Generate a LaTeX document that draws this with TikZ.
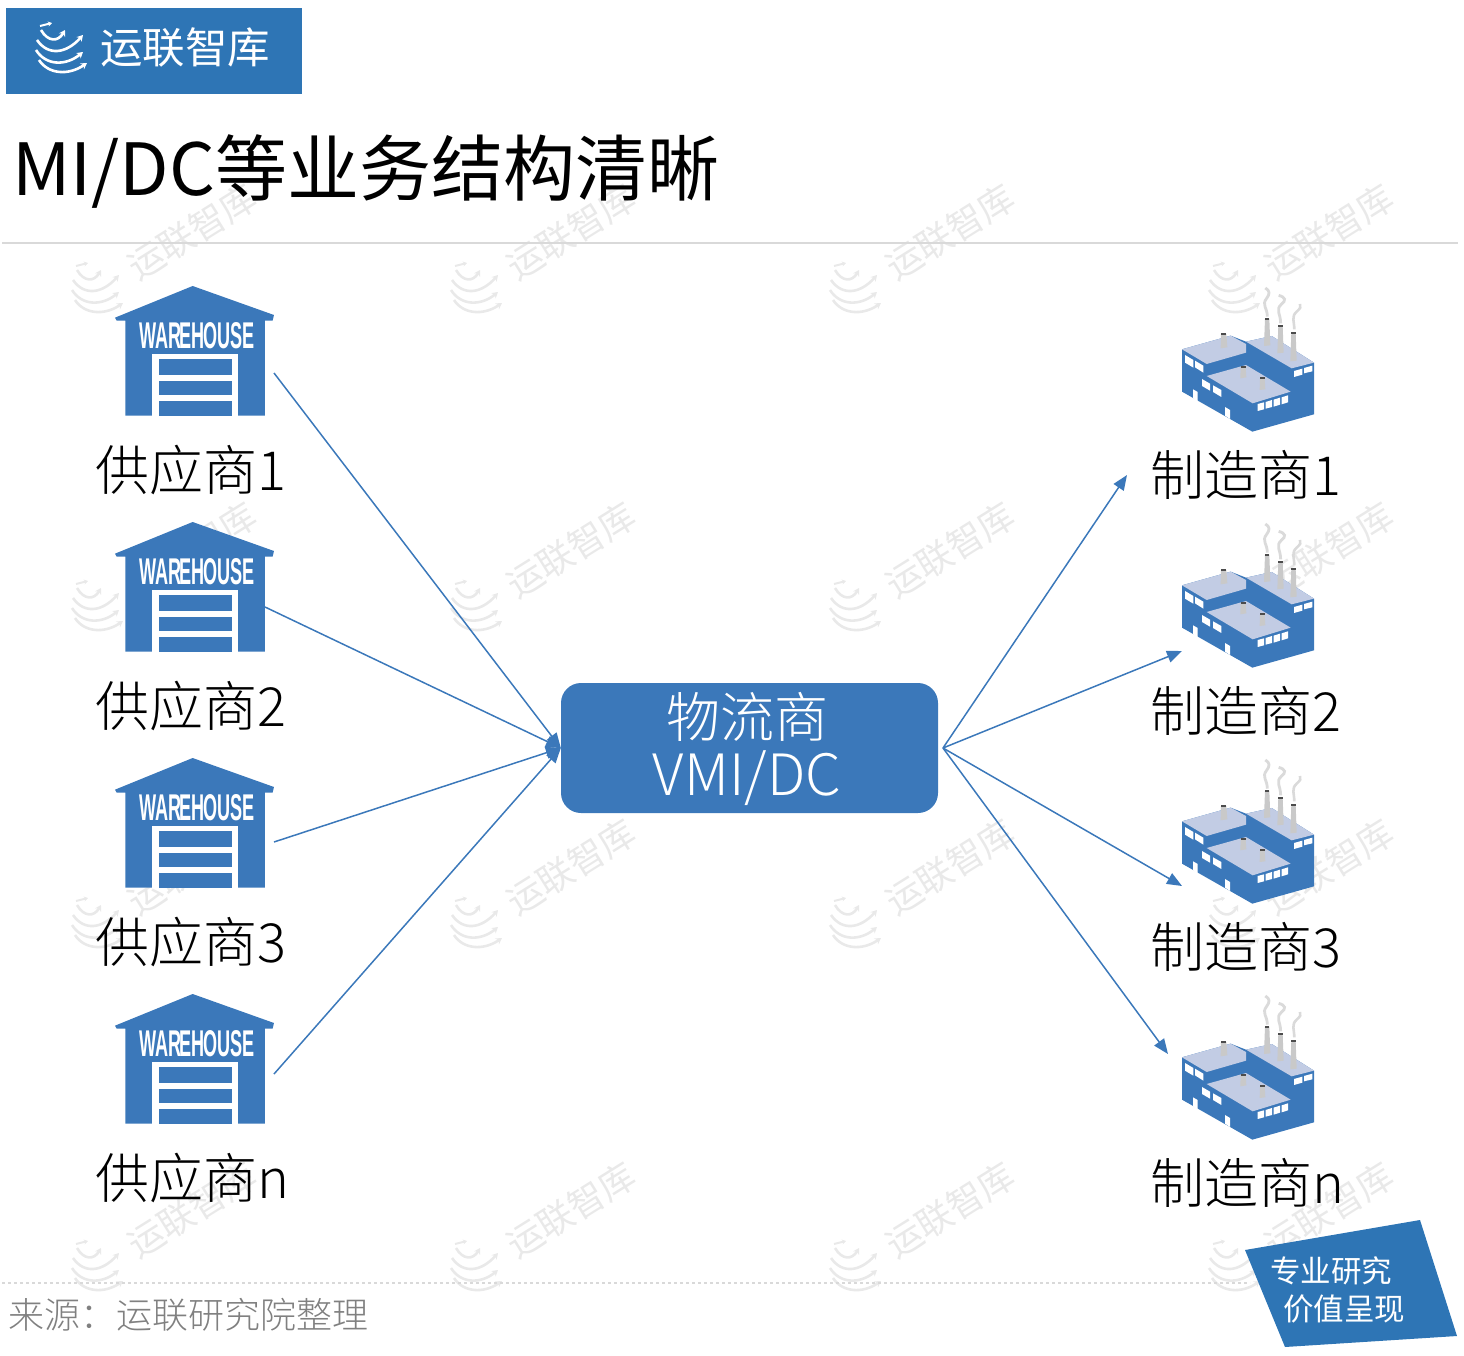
\documentclass[tikz,border=0pt]{standalone}
\usepackage{graphicx}
\usepackage{fontspec}
\usetikzlibrary{arrows.meta}
\setmainfont{Noto Sans CJK SC Light}
\newfontfamily\cjkreg{Noto Sans CJK SC}
\newfontfamily\boxfont{Liberation Sans}
\definecolor{hubblue}{HTML}{3B78BA}
\definecolor{bannerblue}{HTML}{2E75B5}
\definecolor{roofblue}{HTML}{C2CCE4}
\definecolor{stackgray}{HTML}{C9C9C9}
\definecolor{smokegray}{HTML}{DADADA}
\definecolor{markgray}{HTML}{E9E9E9}
\tikzset{
  globe/.pic={
    \draw[#1,line width=2.6pt,-{Stealth[length=6pt,width=7pt]}] (3,38) .. controls (12,52) and (32,54) .. (51,41);
    \draw[#1,line width=2.6pt,-{Stealth[length=6pt,width=7pt]}] (0,28) .. controls (10,44) and (30,44) .. (47,30);
    \draw[#1,line width=2.6pt,-{Stealth[length=6pt,width=7pt]}] (1,18) .. controls (12,34) and (30,32) .. (47,13);
    \draw[#1,line width=2.6pt,-{Stealth[length=6pt,width=7pt]}] (5,8) .. controls (12,20) and (22,20) .. (29,8);
    \draw[#1,line width=2pt,-{Stealth[length=4pt,width=5pt]}] (4,4) -- (16,1);
  },
  watermark/.pic={
    \pic {globe=markgray};
    \node[rotate=32,text=markgray,font=\cjkreg\fontsize{36}{36}\selectfont,inner sep=0pt] (-name) at (120,-30) {运联智库};
  },
  warehouse/.pic={
    \begin{scope}[scale=0.3333]
    \fill[hubblue] (308,48)--(552,135)--(548,152)--(525,152)--(525,437)--(106,437)--(106,152)--(80,152)--(75,143)--cycle;
    \fill[white] (187,252) rectangle (445,437);
    \fill[hubblue] (208,268) rectangle (425,315);
    \fill[hubblue] (208,333) rectangle (425,374);
    \fill[hubblue] (208,392) rectangle (425,437);
    \node[inner sep=0pt,text=white] (-name) at (322,196) {\resizebox{115pt}{26pt}{\boxfont\bfseries WAR\kern-.12em EH\kern-.08em OUSE}};
    \end{scope}
  },
  factory/.pic={
    \begin{scope}[scale=0.3333]
    \fill[hubblue] (66,238)--(212,197)--(258,215)--(335,198)--(462,278)--(462,433)--(277,485)--(66,365)--cycle;
    \fill[roofblue] (66,238)--(212,197)--(258,222)--(258,248)--(140,282)--cycle;
    \fill[roofblue] (258,215)--(335,198)--(462,278)--(395,295)--cycle;
    \fill[roofblue] (140,318)--(258,285)--(392,365)--(278,400)--cycle;
    \fill[white] (75,255)--(100,270)--(100,293)--(75,278)--cycle;
    \fill[white] (105,272)--(130,287)--(130,308)--(105,292)--cycle;
    \fill[white] (126,327)--(150,341)--(150,362)--(126,348)--cycle;
    \fill[white] (159,346)--(184,360)--(184,381)--(159,366)--cycle;
    \fill[white] (99,358)--(113,366)--(113,395)--(99,385)--cycle;
    \fill[white] (195,411)--(210,420)--(210,447)--(195,437)--cycle;
    \fill[white] (293,402)--(312,397)--(312,418)--(293,423)--cycle;
    \fill[white] (317,396)--(336,390)--(336,411)--(317,416)--cycle;
    \fill[white] (341,389)--(360,383)--(360,404)--(341,410)--cycle;
    \fill[white] (365,382)--(384,376)--(384,397)--(365,403)--cycle;
    \fill[white] (402,303)--(427,296)--(427,314)--(402,321)--cycle;
    \fill[white] (432,294)--(457,287)--(457,304)--(432,310)--cycle;
    \fill[stackgray] (183,192)--(199,192)--(202,232)--(182,235)--cycle;
    \fill[stackgray] (242,292)--(257,292)--(259,322)--(241,325)--cycle;
    \fill[stackgray] (300,325)--(314,325)--(316,358)--(299,360)--cycle;
    \fill[stackgray] (315,146)--(328,146)--(331,226)--(312,228)--cycle;
    \fill[stackgray] (355,167)--(368,167)--(371,248)--(352,250)--cycle;
    \fill[stackgray] (394,188)--(407,188)--(410,272)--(391,274)--cycle;
    \fill[black!70] (183,189) rectangle (199,194);
    \fill[black!70] (242,289) rectangle (257,295);
    \fill[black!70] (300,322) rectangle (314,328);
    \fill[black!70] (315,144) rectangle (328,149);
    \fill[black!70] (355,165) rectangle (368,170);
    \fill[black!70] (394,186) rectangle (407,191);
    \draw[smokegray,line width=2.8pt] (322,140) .. controls (322,112) and (304,105) .. (320,85) .. controls (330,72) and (330,62) .. (316,54);
    \draw[smokegray,line width=2.8pt] (362,160) .. controls (362,130) and (345,120) .. (365,102) .. controls (378,92) and (378,82) .. (356,76);
    \draw[smokegray,line width=2.6pt] (403,178) .. controls (403,155) and (393,140) .. (410,125) .. controls (420,116) and (425,110) .. (420,102);
    \end{scope}
  }
}
\begin{document}
\begin{tikzpicture}[x=1pt,y=-1pt]
\tikzstyle{party} =[anchor=west,inner sep=0pt,text=black,font=\fontsize{54}{54}\selectfont]
\tikzstyle{flow} =[draw=hubblue,line width=1.5pt,-{Triangle[length=15pt,width=12pt]}]
\tikzstyle{lane} =[draw=black!15,line width=1.2pt]
\tikzstyle{hub} =[rectangle,rounded corners=20pt,fill=hubblue,minimum width=377pt,minimum height=130pt,inner sep=0pt]
\useasboundingbox (0,0) rectangle (1464,1356);

\pic at (72,262) {watermark};
\pic at (451,262) {watermark};
\pic at (830,262) {watermark};
\pic at (1209,262) {watermark};
\pic at (72,580) {watermark};
\pic at (451,580) {watermark};
\pic at (830,580) {watermark};
\pic at (1209,580) {watermark};
\pic at (72,897) {watermark};
\pic at (451,897) {watermark};
\pic at (830,897) {watermark};
\pic at (1209,897) {watermark};
\pic at (72,1240) {watermark};
\pic at (451,1240) {watermark};
\pic at (830,1240) {watermark};
\pic at (1209,1240) {watermark};

\fill[bannerblue] (6,8) rectangle (302,94);
\pic at (36,22) {globe=white};
\node[inner sep=0pt,anchor=west,text=white,font=\cjkreg\fontsize{42.5}{42.5}\selectfont](brand) at (100,47){运联智库};

\node[inner sep=0pt,anchor=west,font=\cjkreg\fontsize{72}{72}\selectfont](title) at (12,172){MI/DC等业务结构清晰};
\draw[lane] (2,243)--(1458,243);

\pic at (90,270) {warehouse};
\pic at (90,506) {warehouse};
\pic at (90,742) {warehouse};
\pic at (90,978) {warehouse};
\pic at (1160,270) {factory};
\pic at (1160,506) {factory};
\pic at (1160,742) {factory};
\pic at (1160,978) {factory};

\node[party](sup1) at (95,470){供应商1};
\node[party](sup2) at (95,706){供应商2};
\node[party](sup3) at (95,942){供应商3};
\node[party](supn) at (95,1178){供应商n};
\node[party](mak1) at (1150,475){制造商1};
\node[party](mak2) at (1150,711){制造商2};
\node[party](mak3) at (1150,947){制造商3};
\node[party](makn) at (1150,1183){制造商n};

\node[hub](vmi) at (749.5,748){};
\node[inner sep=0pt,text=white,font=\fontsize{54}{54}\selectfont](vmitop) at (747,717){物流商};
\node[inner sep=0pt,text=white,font=\fontsize{57}{57}\selectfont](vmibot) at (747,778){VMI/DC};

\coordinate (from1) at (274,373);
\coordinate (from2) at (265,607);
\coordinate (from3) at (274,842);
\coordinate (fromn) at (274,1074);
\coordinate (hubout) at (943,748);
\coordinate (to1) at (1127,475);
\coordinate (to2) at (1182,651);
\coordinate (to3) at (1182,886);
\coordinate (ton) at (1168,1054);
\draw[flow] (from1)--(vmi.west);
\draw[flow] (from2)--(vmi.west);
\draw[flow] (from3)--(vmi.west);
\draw[flow] (fromn)--(vmi.west);
\draw[flow] (hubout)--(to1);
\draw[flow] (hubout)--(to2);
\draw[flow] (hubout)--(to3);
\draw[flow] (hubout)--(ton);

\draw[lane,dashed] (2,1283)--(1250,1283);
\node[inner sep=0pt,anchor=west,text=black!50,font=\fontsize{36}{36}\selectfont](source) at (8,1315){来源：运联研究院整理};

\fill[bannerblue] (1245,1250)--(1420,1220)--(1457,1336)--(1285,1347)--cycle;
\node[inner sep=0pt,text=white,font=\cjkreg\fontsize{30.5}{30.5}\selectfont](badge1) at (1331,1271){专业研究};
\node[inner sep=0pt,text=white,font=\cjkreg\fontsize{30.5}{30.5}\selectfont](badge2) at (1344,1309){价值呈现};
\end{tikzpicture}
\end{document}
